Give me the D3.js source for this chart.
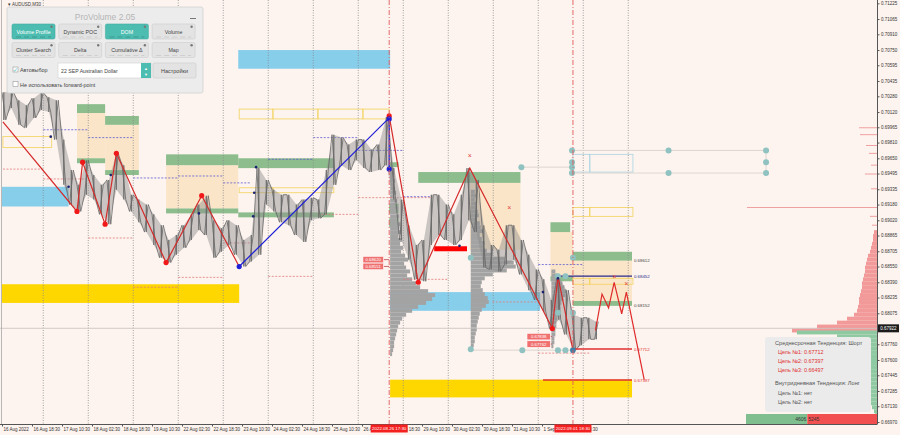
<!DOCTYPE html>
<html>
<head>
<meta charset="utf-8">
<script src="https://cdn.jsdelivr.net/npm/d3@7"></script>
<style>
body {margin: 0; background: #fdf4ef;}
svg {display: block; font-family: "Liberation Sans", Arial, sans-serif;}
</style>
</head>
<body>
<div id="chart"></div>
<script>
//chart data (AUDUSD, M30 bars, sampled every 8 bars)
var barStep = 8;
var priceHigh = [0.7032,0.7033,0.7024,0.7019,0.7026,0.7032,0.7027,0.7024,0.6984,0.6953,
  0.6938,0.6963,0.6948,0.6938,0.6943,0.6970,0.6958,0.6928,0.6923,0.6918,
  0.6908,0.6897,0.6882,0.6887,0.6897,0.6908,0.6918,0.6927,0.6902,0.6894,
  0.6902,0.6897,0.6882,0.6887,0.6955,0.6943,0.6933,0.6928,0.6928,0.6918,
  0.6923,0.6925,0.6923,0.6953,0.6989,0.6986,0.6979,0.6984,0.6984,0.6974,
  0.6979,0.7007,0.6955,0.6923,0.6897,0.6877,0.6882,0.6928,0.6928,0.6918,
  0.6908,0.6928,0.6955,0.6943,0.6897,0.6877,0.6872,0.6897,0.6897,0.6882,
  0.6867,0.6852,0.6842,0.6821,0.6845,0.6831,0.6806,0.6803,0.6803,0.6799];
var priceLow = [0.7004,0.7016,0.6999,0.6996,0.7006,0.7014,0.7012,0.6984,0.6938,0.6918,
  0.6911,0.6928,0.6923,0.6908,0.6898,0.6933,0.6923,0.6911,0.6900,0.6890,
  0.6877,0.6864,0.6859,0.6867,0.6874,0.6882,0.6892,0.6887,0.6864,0.6870,
  0.6877,0.6867,0.6855,0.6860,0.6867,0.6918,0.6911,0.6900,0.6897,0.6887,
  0.6880,0.6902,0.6904,0.6908,0.6938,0.6958,0.6953,0.6963,0.6955,0.6951,
  0.6953,0.6958,0.6923,0.6882,0.6862,0.6842,0.6840,0.6877,0.6887,0.6882,
  0.6877,0.6882,0.6902,0.6890,0.6854,0.6852,0.6850,0.6857,0.6862,0.6847,
  0.6831,0.6821,0.6809,0.6792,0.6801,0.6786,0.6770,0.6775,0.6781,0.6781];

//axis labels
var yTicks = [0.71225,0.71065,0.70910,0.70750,0.70595,0.70435,0.70280,0.70120,0.69965,0.69810,
  0.69650,0.69495,0.69335,0.69180,0.69020,0.68865,0.68705,0.68550,0.68390,0.68235,
  0.68075,0.67760,0.67600,0.67445,0.67285,0.67130,0.66970];
var xLabels = ["16 Aug 2022","16 Aug 18:30","17 Aug 10:30","18 Aug 02:30","18 Aug 18:30",
  "19 Aug 10:30","22 Aug 02:30","22 Aug 18:30","23 Aug 10:30","24 Aug 02:30","24 Aug 18:30",
  "25 Aug 10:30","26 Aug 02:30","26 Aug 18:30","29 Aug 10:30","30 Aug 02:30","30 Aug 18:30",
  "31 Aug 10:30","1 Sep 02:30","1 Sep 18:30"];
var xLabelBars = xLabels.map(function(d, i) { return i * 32; });
var gridBars = [44,92,140,188,236,284,332,380,428,476,524,572,620,668];
var currentPrice = 0.67922;
var markerTimes = [[413, "2022.08.26 17:30"], [609, "2022.09.01 18:30"]];

//zones: [bar from, bar to, price top, price bottom]
var blueZones = [[0,71,0.6936,0.6916],[252,414,0.7075,0.7056],[414,574,0.6829,0.6810]];
var goldZones = [[0,253,0.6837,0.6818],[414,672,0.6740,0.6722]];
var peachZones = [[80,110,0.7011,0.6965],[110,146,0.6999,0.6953],[175,252,0.6958,0.6914],
  [499,553,0.6940,0.6872],[585,609,0.6890,0.6845],[609,672,0.6861,0.6816]];
var greenZones = [[80,110,0.7020,0.7011],[80,110,0.6965,0.6960],[110,146,0.7008,0.6999],
  [110,146,0.6953,0.6948],[175,252,0.6969,0.6958],[175,252,0.6914,0.6909],
  [252,354,0.6965,0.6955],[252,354,0.6910,0.6905],[413,423,0.6961,0.6956],
  [413,423,0.6919,0.6909],[413,423,0.6904,0.6895],[444,553,0.6951,0.6940],
  [585,606,0.6900,0.6890],[585,609,0.6845,0.6840],[609,672,0.6870,0.6861],[609,672,0.6820,0.6815]];
var yellowBoxes = [[1,53,0.6987,0.6976],[253,289,0.7015,0.7005],[289,337,0.7015,0.7005],
  [337,385,0.7015,0.7005],[385,413,0.7015,0.7005],[253,289,0.6935,0.6930],[289,354,0.6935,0.6930],
  [609,627,0.6915,0.6906],[627,673,0.6915,0.6906],[609,627,0.6843,0.6837],[627,673,0.6843,0.6837]];
var lightBlueBoxes = [[609,627,0.6969,0.6951],[627,673,0.6969,0.6951]];

//dashed levels: [bar from, bar to, price]
var blueLevels = [[44,92,0.6994],[92,140,0.6986],[140,188,0.6945],[188,236,0.6947],[236,265,0.6940],
  [284,332,0.6964],[332,380,0.6986],[380,428,0.6973],[428,459,0.6926],[572,619,0.6857]];
var redLevels = [[1,44,0.6954],[44,92,0.6944],[92,140,0.6884],[140,188,0.6834],[188,236,0.6844],
  [236,265,0.6879],[284,332,0.6845],[337,380,0.6908],[380,459,0.6925],[428,475,0.6842],
  [523,574,0.6819],[572,627,0.6767]];

//targets
var targetLines = [[609,672,0.67712,"#e03030"],[577,672,0.67397,"#e03030"],[593,672,0.68452,"#2a2a8a"]];
var targetLabels = [[0.68612,"#444"],[0.68452,"#2a2a8a"],[0.68152,"#444"],[0.67712,"#e03030"],[0.67397,"#e03030"]];

//zigzag
var zigRed1 = [[1,0.7002],[80,0.6911],[86,0.6961],[110,0.6898],[122,0.6970],[175,0.6859],[213,0.6927],[253,0.6855]];
var zigBlue = [[253,0.6855],[413,0.7006],[413,0.6954]];
var zigRed2 = [[413,0.7008],[444,0.6839],[499,0.6955],[587,0.6792],[593,0.6845],[609,0.6770]];
var zigForecast = [[633,0.6790],[640,0.6827],[647,0.6813],[653,0.6839],[661,0.6807],[666,0.6829],[685,0.6740]];
var redPivots = [[80,0.6911],[86,0.6961],[110,0.6898],[122,0.6970],[175,0.6859],[213,0.6927],[413,0.7008],[444,0.6839],[587,0.6792]];
var bluePivots = [[253,0.6855],[413,0.7005],[413,0.6954]];
var navyDots = [[52,0.6987],[71,0.6936],[116,0.6948],[210,0.6909],[271,0.6956],[269,0.6930],[268,0.6906],[577,0.6829],[593,0.6843],[488,0.6876]];
var tealDots = [[608,0.6973],[711,0.6973],[815,0.6973],[608,0.6961],[608,0.6956],[815,0.6961],[608,0.6950],
  [711,0.6950],[815,0.6950],[554,0.6956],[500,0.6864],[500,0.6771],[555,0.6770],[593,0.6770],[601,0.6770],
  [593,0.6808],[609,0.6808],[593,0.6845],[601,0.6845],[609,0.6864]];
var crossMarks = [[499,0.6968],[541,0.6915],[653,0.6845],[666,0.6838]];
var redBar = [461,496,0.6873];
var priceTags = [[385,407,0.68620,413],[385,407,0.68551,413],[560,585,0.67838,587],[560,585,0.67762,587]];

//volume profiles: start bar, top price, volumes per 0.0004 step
var profileStep = 0.0004;
var profileA = {bar: 414, top: 0.6956, vols: [3,4,3,5,4,5,6,4,7,5,8,6,9,7,10,9,11,8,12,10,13,11,15,18,14,
  16,20,17,22,26,30,38,45,42,36,28,22,16,12,10,8,7,6,5,4,4,3,2]};
var profileB = {bar: 500, top: 0.6933, vols: [4,5,4,6,5,7,8,6,9,10,12,9,11,14,13,16,22,34,43,45,
  36,22,14,11,10,12,14,17,18,15,11,9,8,7,6,6,5,4,4,3]};
var profileC = {bar: 586, top: 0.6852, vols: [4,6,8,11,13,15,14,12,10,9,8,7,6,5,5,4,4,3,3,2]};
var rightSell = {top: 0.6892, vols: [3,4,4,5,6,7,9,10,11,12,12,13,14,15,15,16,17,18,18,19,20,23,30,40,60,85]};
var rightBuy = {top: 0.6790, vols: [80,40,30,27,26,24,23,22,21,20,18,19,17,16,13,11,10,8,6,5,3,2]};
var rightLines = [[0.6996,18],[0.6989,17],[0.6978,11],[0.6970,8],[0.6958,6],[0.6949,12],[0.6934,6],[0.6915,130],[0.6906,7],[0.6897,5]];
var buyVolume = 4606, sellVolume = 5245;

//info panel texts
var infoLines = [["Среднесрочная Тенденция: Шорт","#555",0],["Цель №1: 0.67712","#e03030",1],
  ["Цель №2: 0.67397","#e03030",1],["Цель №3: 0.66497","#e03030",1],
  ["Внутридневная Тенденция: Лонг","#555",0],["Цель №1: нет","#555",1],["Цель №2: нет","#555",1]];
var panelButtons = [["Volume Profile",true],["Dynamic POC",false],["DOM",true],["Volume",false],
  ["Cluster Search",false],["Delta",false],["Cumulative Δ",false],["Map",false]];

//setup
var svg_w = 900, svg_h = 435;
var plotRight = 877, plotBottom = 424;
var xScale = d3.scaleLinear().domain([0, 934]).range([2, 2 + 934 * 0.9375]);
var yScale = d3.scaleLinear().domain([0.71225, 0.66970]).range([3.3, 422]);
var volScale = d3.scaleLinear().domain([0, 100]).range([0, 100]);
var stepH = yScale(0.7) - yScale(0.7 + profileStep);

var svg = d3.select("#chart").append("svg")
    .attr("width", svg_w).attr("height", svg_h);

svg.append("rect").attr("width", svg_w).attr("height", svg_h).attr("fill", "#fdf4ef");

svg.append("clipPath").attr("id", "plotclip")
  .append("rect").attr("x", 0).attr("y", 0).attr("width", plotRight).attr("height", plotBottom);

var g = svg.append("g").attr("clip-path", "url(#plotclip)");

function zones(data, fill, stroke) {
  g.append("g").selectAll("rect").data(data).enter().append("rect")
    .attr("x", function(d) { return xScale(d[0]); })
    .attr("width", function(d) { return xScale(d[1]) - xScale(d[0]); })
    .attr("y", function(d) { return yScale(d[2]); })
    .attr("height", function(d) { return yScale(d[3]) - yScale(d[2]); })
    .attr("fill", fill)
    .attr("stroke", stroke || "none")
    .attr("stroke-width", 0.8);
}

zones(peachZones, "#fbe5c9");
zones(greenZones, "#8dbd8d");
zones(blueZones, "#87ceeb");
zones(goldZones, "#ffd700");
zones(yellowBoxes, "none", "#f2d25a");
zones(lightBlueBoxes, "none", "#a9d3e3");

//vertical grid
g.append("g").selectAll("line").data(gridBars).enter().append("line")
  .attr("x1", function(d) { return xScale(d); }).attr("x2", function(d) { return xScale(d); })
  .attr("y1", 0).attr("y2", plotBottom)
  .attr("stroke", "#8a8a8a").attr("stroke-width", 0.8).attr("stroke-dasharray", "1,1.5");

//volume profiles
function profile(p, color, side) {
  g.append("g").selectAll("rect").data(p.vols).enter().append("rect")
    .attr("x", function(v) { return side === "right" ? plotRight - volScale(v) : xScale(p.bar); })
    .attr("y", function(v, i) { return yScale(p.top - i * profileStep); })
    .attr("width", function(v) { return volScale(v); })
    .attr("height", stepH)
    .attr("fill", color);
}
profile(profileA, "#a3a3a3");
profile(profileB, "#a3a3a3");
profile(profileC, "#a3a3a3");
profile(rightSell, "#f29a9a", "right");
profile(rightBuy, "#8fc9a2", "right");

g.append("g").selectAll("line").data(rightLines).enter().append("line")
  .attr("x1", function(d) { return plotRight - volScale(d[1]); }).attr("x2", plotRight)
  .attr("y1", function(d) { return yScale(d[0]); }).attr("y2", function(d) { return yScale(d[0]); })
  .attr("stroke", "#f0a0a0").attr("stroke-width", 1);

//dashed levels
function levels(data, color) {
  g.append("g").selectAll("line").data(data).enter().append("line")
    .attr("x1", function(d) { return xScale(d[0]); }).attr("x2", function(d) { return xScale(d[1]); })
    .attr("y1", function(d) { return yScale(d[2]); }).attr("y2", function(d) { return yScale(d[2]); })
    .attr("stroke", color).attr("stroke-width", 0.8).attr("stroke-dasharray", "2,1.5");
}
levels(blueLevels, "#5b5bd0");
levels(redLevels, "#e07a7a");

//current price line
g.append("line").attr("x1", 0).attr("x2", plotRight)
  .attr("y1", yScale(currentPrice)).attr("y2", yScale(currentPrice))
  .attr("stroke", "#c8c2be").attr("stroke-width", 0.8);

//teal helper lines
var line = d3.line().x(function(d) { return xScale(d[0]); }).y(function(d) { return yScale(d[1]); });
[[[608,0.6973],[815,0.6973]], [[608,0.6950],[815,0.6950]], [[815,0.6973],[815,0.6950]],
 [[554,0.6956],[608,0.6956]], [[500,0.6770],[609,0.6770]]].forEach(function(seg) {
  g.append("path").attr("d", line(seg)).attr("fill", "none").attr("stroke", "#d9d2cc").attr("stroke-width", 0.9);
});

//price bars: hi-lo band, bar lines and jagged path
var band = d3.area()
  .x(function(d, k) { return xScale(k * barStep + barStep / 4); })
  .y0(function(d, k) { return yScale(priceLow[k]); })
  .y1(function(d) { return yScale(d); });
g.append("path").attr("d", band(priceHigh)).attr("fill", "#8c8c8c").attr("opacity", 0.45);

var pts = [];
priceHigh.forEach(function(h, k) {
  var x0 = xScale(k * barStep), x1 = xScale(k * barStep + barStep / 2);
  if (k % 2 === 0) { pts.push([x0, yScale(h)], [x1, yScale(priceLow[k])]); }
  else { pts.push([x0, yScale(priceLow[k])], [x1, yScale(h)]); }
});
g.append("g").selectAll("line").data(priceHigh).enter().append("line")
  .attr("x1", function(d, k) { return xScale(k * barStep) + 1.8; })
  .attr("x2", function(d, k) { return xScale(k * barStep) + 1.8; })
  .attr("y1", function(d) { return yScale(d); })
  .attr("y2", function(d, k) { return yScale(priceLow[k]); })
  .attr("stroke", "#6a6a6a").attr("stroke-width", 1.2);
g.append("path").attr("d", d3.line()(pts))
  .attr("fill", "none").attr("stroke", "#666").attr("stroke-width", 0.8);

//target lines and labels
g.append("g").selectAll("line").data(targetLines).enter().append("line")
  .attr("x1", function(d) { return xScale(d[0]); }).attr("x2", function(d) { return xScale(d[1]); })
  .attr("y1", function(d) { return yScale(d[2]); }).attr("y2", function(d) { return yScale(d[2]); })
  .attr("stroke", function(d) { return d[3]; }).attr("stroke-width", 1.3);
g.append("g").selectAll("text").data(targetLabels).enter().append("text")
  .attr("x", xScale(674)).attr("y", function(d) { return yScale(d[0]) + 1.6; })
  .attr("font-size", 4.4).attr("fill", function(d) { return d[1]; })
  .text(function(d) { return d3.format(".5f")(d[0]); });

//thick red bar
g.append("line").attr("x1", xScale(redBar[0])).attr("x2", xScale(redBar[1]))
  .attr("y1", yScale(redBar[2])).attr("y2", yScale(redBar[2]))
  .attr("stroke", "#ff0000").attr("stroke-width", 5);

//zigzag lines
function zig(data, color) {
  g.append("path").attr("d", line(data)).attr("fill", "none")
    .attr("stroke", color).attr("stroke-width", 1.2);
}
zig(zigRed1, "#d42a2a");
zig(zigRed2, "#d42a2a");
zig(zigForecast, "#e02a2a");
zig(zigBlue, "#1f1fd6");

function dots(data, r, color) {
  g.append("g").selectAll("circle").data(data).enter().append("circle")
    .attr("cx", function(d) { return xScale(d[0]); }).attr("cy", function(d) { return yScale(d[1]); })
    .attr("r", r).attr("fill", color);
}
dots(tealDots, 3, "#8fc2c0");
dots(redPivots, 2.6, "#f01818");
dots(bluePivots, 2.6, "#1f1fd6");
dots(navyDots, 1.3, "#1a2270");
dots([[609,0.6770]], 2.8, "#3d7fa8");

g.append("g").selectAll("text").data(crossMarks).enter().append("text")
  .attr("x", function(d) { return xScale(d[0]); }).attr("y", function(d) { return yScale(d[1]) + 2.5; })
  .attr("text-anchor", "middle").attr("font-size", 7).attr("fill", "#e04040")
  .text("×");

//price tags
var tags = g.append("g").selectAll("g").data(priceTags).enter().append("g");
tags.append("line")
  .attr("x1", function(d) { return xScale(d[1]); }).attr("x2", function(d) { return xScale(d[3]); })
  .attr("y1", function(d) { return yScale(d[2]); }).attr("y2", function(d) { return yScale(d[2]); })
  .attr("stroke", "#b84a4a").attr("stroke-width", 0.8);
tags.append("rect")
  .attr("x", function(d) { return xScale(d[0]); })
  .attr("width", function(d) { return xScale(d[1]) - xScale(d[0]); })
  .attr("y", function(d) { return yScale(d[2]) - 3.3; }).attr("height", 6.6)
  .attr("fill", "#f07070").attr("stroke", "#fff").attr("stroke-width", 0.6);
tags.append("text")
  .attr("x", function(d) { return (xScale(d[0]) + xScale(d[1])) / 2; })
  .attr("y", function(d) { return yScale(d[2]) + 1.6; })
  .attr("text-anchor", "middle").attr("font-size", 4.3).attr("fill", "#fff")
  .text(function(d) { return d3.format(".5f")(d[2]); });

//time marker lines
g.append("g").selectAll("line").data(markerTimes).enter().append("line")
  .attr("x1", function(d) { return xScale(d[0]); }).attr("x2", function(d) { return xScale(d[0]); })
  .attr("y1", 0).attr("y2", plotBottom)
  .attr("stroke", "#e05a5a").attr("stroke-width", 0.9).attr("stroke-dasharray", "5,2,1,2");

//bottom volume bar
var volBarScale = d3.scaleLinear().domain([0, buyVolume + sellVolume]).range([0, 131]);
g.append("rect").attr("x", plotRight - volBarScale(buyVolume + sellVolume)).attr("y", 414)
  .attr("width", volBarScale(buyVolume)).attr("height", 10).attr("fill", "#7fbf8f");
g.append("rect").attr("x", plotRight - volBarScale(sellVolume)).attr("y", 414)
  .attr("width", volBarScale(sellVolume)).attr("height", 10).attr("fill", "#f25050");
g.append("text").attr("x", plotRight - volBarScale(sellVolume) - 1).attr("y", 421)
  .attr("text-anchor", "end").attr("font-size", 5).attr("fill", "#333").text(buyVolume);
g.append("text").attr("x", plotRight - volBarScale(sellVolume) + 1).attr("y", 421)
  .attr("font-size", 5).attr("fill", "#333").text(sellVolume);

//info box
var info = svg.append("g").attr("transform", "translate(765,337)");
info.append("rect").attr("width", 106).attr("height", 75).attr("rx", 3).attr("fill", "#ebebeb");
var infoY = [8, 17, 26, 35, 48, 58, 67];
info.selectAll("text").data(infoLines).enter().append("text")
  .attr("x", function(d) { return d[2] ? 13 : 10; })
  .attr("y", function(d, i) { return infoY[i]; })
  .attr("font-size", function(d) { return d[2] ? 5.4 : 5.6; })
  .attr("fill", function(d) { return d[1]; })
  .text(function(d) { return d[0]; });

//axes
svg.append("line").attr("x1", 1.5).attr("x2", 1.5).attr("y1", 0).attr("y2", plotBottom)
  .attr("stroke", "#a8a8a8").attr("stroke-width", 0.8);

var yAxis = svg.append("g").attr("transform", "translate(" + plotRight + ",0)")
  .call(d3.axisRight(yScale).tickValues(yTicks).tickSize(2.5).tickPadding(1.5).tickFormat(d3.format(".5f")));
yAxis.select(".domain").attr("stroke", "#555").attr("d", "M0.5,0V" + plotBottom);
yAxis.selectAll("line").attr("stroke", "#555");
yAxis.selectAll("text").attr("font-size", 4.5).attr("fill", "#333").attr("font-family", "Liberation Sans, Arial");

var xAxis = svg.append("g").attr("transform", "translate(0," + plotBottom + ")")
  .call(d3.axisBottom(xScale).tickValues(xLabelBars).tickSize(2.5).tickPadding(1.5)
    .tickFormat(function(d, i) { return xLabels[i]; }));
xAxis.select(".domain").attr("stroke", "#555").attr("d", "M0,0.5H" + (plotRight + 0.5));
xAxis.selectAll("line").attr("stroke", "#555");
xAxis.selectAll("text").attr("font-size", 4.5).attr("fill", "#333")
  .attr("text-anchor", "start").attr("x", 1).attr("dy", "0.6em")
  .attr("font-family", "Liberation Sans, Arial");

//red time boxes on x axis
var tm = svg.append("g").selectAll("g").data(markerTimes).enter().append("g");
tm.append("rect").attr("x", function(d) { return xScale(d[0]) - 18.5; }).attr("y", plotBottom + 0.5)
  .attr("width", 37).attr("height", 8).attr("fill", "#f42020");
tm.append("text").attr("x", function(d) { return xScale(d[0]); }).attr("y", plotBottom + 6.4)
  .attr("text-anchor", "middle").attr("font-size", 4.4).attr("fill", "#fff")
  .text(function(d) { return d[1]; });

//current price box
svg.append("rect").attr("x", plotRight + 1).attr("y", yScale(currentPrice) - 4)
  .attr("width", 21).attr("height", 8).attr("fill", "#1c1c1c");
svg.append("text").attr("x", plotRight + 11.5).attr("y", yScale(currentPrice) + 1.6)
  .attr("text-anchor", "middle").attr("font-size", 4.5).attr("fill", "#fff")
  .text(d3.format(".5f")(currentPrice));

//symbol caption
svg.append("text").attr("x", 8).attr("y", 6).attr("font-size", 4.5).attr("fill", "#333").text("▾ AUDUSD,M30");

//ProVolume panel
var panel = svg.append("g").attr("transform", "translate(7,7)");
panel.append("rect").attr("width", 196).attr("height", 86).attr("rx", 2)
  .attr("fill", "#ececec").attr("stroke", "#d2d2d2").attr("stroke-width", 0.8);
panel.append("text").attr("x", 98).attr("y", 12.5).attr("text-anchor", "middle")
  .attr("font-size", 8.5).attr("fill", "#b5b5b5").text("ProVolume 2.05");
panel.append("rect").attr("x", 183).attr("y", 11).attr("width", 6).attr("height", 1).attr("fill", "#777");

var btn = panel.selectAll(".btn").data(panelButtons).enter().append("g")
  .attr("class", "btn")
  .attr("transform", function(d, i) { return "translate(" + (5 + (i % 4) * 46.7) + "," + (17 + Math.floor(i / 4) * 18.5) + ")"; });
btn.append("rect").attr("width", 43).attr("height", 15).attr("rx", 1.5)
  .attr("fill", function(d) { return d[1] ? "#4dbdb1" : "#e3e3e3"; })
  .attr("stroke", function(d) { return d[1] ? "#45aca1" : "#cdcdcd"; }).attr("stroke-width", 0.6);
btn.append("text").attr("x", 21.5).attr("y", 9.8).attr("text-anchor", "middle")
  .attr("font-size", 5.3).attr("fill", function(d) { return d[1] ? "#fff" : "#444"; })
  .text(function(d) { return d[0]; });
btn.append("circle").attr("cx", 39.5).attr("cy", 2.8).attr("r", 1.2).attr("fill", "#777");
btn.append("line").attr("x1", 4).attr("x2", 39).attr("y1", 13).attr("y2", 13)
  .attr("stroke", function(d) { return d[1] ? "#3a8f86" : "#c9c9c9"; }).attr("stroke-width", 0.8)
  .attr("stroke-dasharray", "5,3");

panel.append("rect").attr("x", 6).attr("y", 60).attr("width", 5).attr("height", 5)
  .attr("fill", "#fff").attr("stroke", "#888").attr("stroke-width", 0.5);
panel.append("text").attr("x", 5.5).attr("y", 65).attr("font-size", 6).attr("fill", "#4dbdb1").text("✓");
panel.append("text").attr("x", 13).attr("y", 65).attr("font-size", 5.4).attr("fill", "#444").text("Автовыбор");
panel.append("rect").attr("x", 51).attr("y", 56).attr("width", 93).attr("height", 15)
  .attr("fill", "#fff").attr("stroke", "#cfcfcf").attr("stroke-width", 0.6);
panel.append("rect").attr("x", 134).attr("y", 56).attr("width", 10).attr("height", 15).attr("fill", "#4dbdb1");
panel.append("text").attr("x", 139).attr("y", 63).attr("text-anchor", "middle").attr("font-size", 4).attr("fill", "#fff").text("▲");
panel.append("text").attr("x", 139).attr("y", 68.5).attr("text-anchor", "middle").attr("font-size", 4).attr("fill", "#fff").text("▼");
panel.append("text").attr("x", 54).attr("y", 66).attr("font-size", 5.2).attr("fill", "#444").text("22 SEP Australian Dollar");
panel.append("rect").attr("x", 146).attr("y", 56).attr("width", 43).attr("height", 15).attr("rx", 1.5)
  .attr("fill", "#e3e3e3").attr("stroke", "#cdcdcd").attr("stroke-width", 0.6);
panel.append("text").attr("x", 167.5).attr("y", 65.8).attr("text-anchor", "middle")
  .attr("font-size", 5.5).attr("fill", "#444").text("Настройки");
panel.append("rect").attr("x", 6).attr("y", 74.5).attr("width", 5).attr("height", 5)
  .attr("fill", "#fff").attr("stroke", "#888").attr("stroke-width", 0.5);
panel.append("text").attr("x", 13).attr("y", 79.5).attr("font-size", 5.4).attr("fill", "#444").text("Не использовать forward-point");
</script>
</body>
</html>
